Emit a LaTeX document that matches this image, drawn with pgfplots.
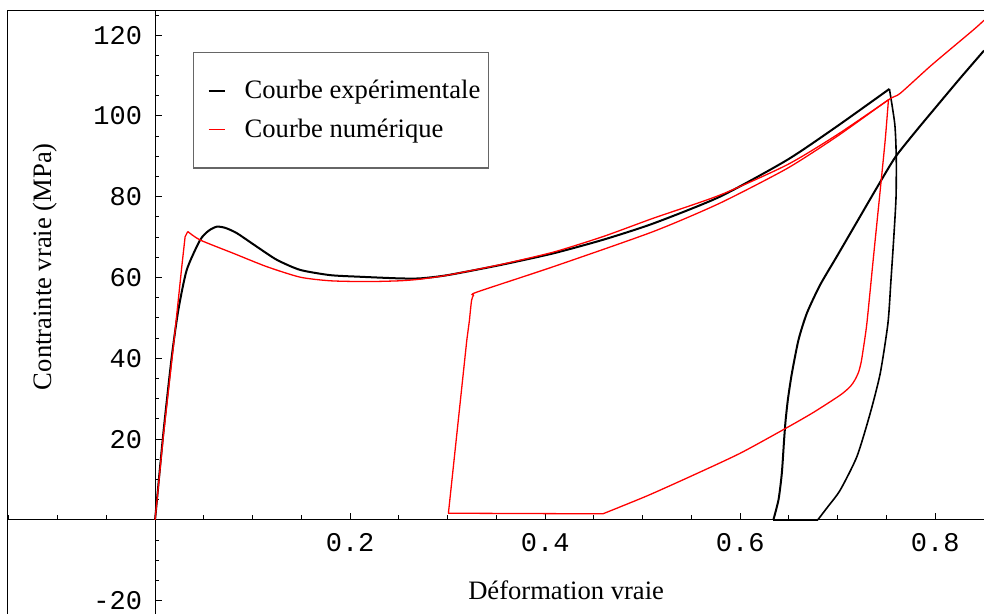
\documentclass[border=0pt]{standalone}
\usepackage{fontspec}
\setmainfont{Liberation Serif}
\setmonofont{Liberation Mono}
\usepackage{pgfplots}
\pgfplotsset{compat=1.18}
\begin{document}
\begin{tikzpicture}
\begin{axis}[
  name=ax,
  scale only axis,
  width=488pt, height=301.5pt,
  xmin=-0.1508, xmax=0.85,
  ymin=-23.3, ymax=126,
  axis lines=middle,
  axis line style={-, line width=0.5pt},
  every inner x axis line/.append style={-},
  every inner y axis line/.append style={-},
  xtick={0.2,0.4,0.6,0.8},
  xticklabels={0.2,0.4,0.6,0.8},
  ytick={-20,20,40,60,80,100,120},
  yticklabels={-20,20,40,60,80,100,120},
  minor xtick={-0.15,-0.1,-0.05,0.05,0.1,0.15,0.25,0.3,0.35,0.45,0.5,0.55,0.65,0.7,0.75},
  minor ytick={-15,-10,-5,5,10,15,25,30,35,45,50,55,65,70,75,85,90,95,105,110,115,125},
  tick align=inside,
  major tick length=3.4pt,
  minor tick length=2.2pt,
  tick style={line width=0.5pt, black},
  ticklabel style={font=\ttfamily\fontsize{13.5}{16}\selectfont},
  xticklabel style={yshift=-3pt},
  yticklabel style={xshift=-3pt},
  legend style={at={(axis cs:0.039,115.8)}, anchor=north west, draw=black!60, line width=0.6pt,
    font=\fontsize{13.3}{16}\selectfont, inner xsep=2pt, inner ysep=11.8pt, row sep=4.5pt,
    column sep=7.5pt, nodes={inner xsep=2pt},
    cells={anchor=west}},
  legend image code/.code={\draw[#1] (0pt,0pt) -- (8pt,0pt); \path[draw=none] (-5.5pt,0pt) -- (8pt,0pt);},
]
% experimental curve (black)
\addplot[black, line width=1pt, smooth, tension=0.4] coordinates {
(0,0) (0.0085,21.5) (0.0171,40.4) (0.0239,52.0) (0.0325,61.9) (0.0462,69.3)
(0.055,71.6) (0.0633,72.6) (0.072,72.3) (0.0838,71.0) (0.104,67.7) (0.1248,64.4)
(0.1487,61.9) (0.1795,60.6) (0.21,60.2) (0.25,59.8) (0.2718,59.8) (0.30,60.6)
(0.354,63.1) (0.4085,66.0) (0.46,69.4) (0.511,73.4) (0.579,80.0) (0.648,89.1)
(0.699,97.4) (0.753,106.7)
};
\addlegendentry{Courbe expérimentale}
\addplot[black, line width=0.8pt, smooth, tension=0.4, forget plot] coordinates {
(0.753,106.7) (0.7585,98) (0.760,90) (0.7598,80) (0.7575,70) (0.7545,59) (0.7515,48.7)
(0.7436,36.3) (0.7333,26.4) (0.7197,15.7) (0.7026,7.4) (0.690,3.3) (0.6795,0)
};
\addplot[black, line width=0.8pt, forget plot] coordinates {(0.6795,0) (0.634,0)};
\addplot[black, line width=1pt, smooth, tension=0.4, forget plot] coordinates {
(0.634,0) (0.6393,5.0) (0.6427,11.6) (0.645,19.8) (0.6465,24.5) (0.649,30) (0.653,36.3)
(0.6598,44.6) (0.6684,51.2) (0.682,58.2) (0.700,65.6) (0.72,73.9) (0.74,82.2)
(0.759,89.8) (0.78,96.2) (0.80,102.0) (0.825,109.2) (0.85,116.2)
};
% numerical curve (red)
\addplot[red, line width=0.65pt, line join=round] coordinates {
(0,0) (0.0085,20.8) (0.0188,42.9) (0.0274,62.7) (0.0308,70.1) (0.0335,71.4)
};
\addlegendentry{Courbe numérique}
\addplot[red, line width=0.65pt, smooth, tension=0.4, forget plot] coordinates {
(0.0335,71.4) (0.0462,69.3) (0.0803,66.0) (0.1145,62.7) (0.1487,60.1) (0.1795,59.2) (0.217,59.0)
(0.251,59.2) (0.2718,59.6) (0.30,60.6) (0.354,63.2) (0.4085,66.3) (0.46,70.2)
(0.511,74.7) (0.579,80.4) (0.648,87.9) (0.699,95.3) (0.752,104.0)
};
\addplot[red, line width=0.65pt, smooth, tension=0.4, forget plot] coordinates {
(0.752,104.0) (0.7487,94.1) (0.7436,81.7) (0.7367,65.2) (0.7299,48.7) (0.7260,42) (0.7240,39.0)
(0.7214,36.6) (0.7175,34.6) (0.7128,33.0) (0.7026,30.9) (0.675,26.6) (0.6469,22.7)
(0.600,16.5) (0.5521,11.1) (0.505,6.0) (0.4592,1.5)
};
\addplot[red, line width=0.65pt, line join=round, forget plot] coordinates {
(0.4592,1.5) (0.3008,1.65) (0.3197,44.6) (0.3224,49.5)
};
\addplot[red, line width=0.65pt, smooth, tension=0.4, forget plot] coordinates {
(0.3224,49.5) (0.3245,54.3) (0.3265,55.6) (0.330,56.4)
(0.4085,62.7) (0.511,71.4) (0.579,78.4) (0.648,87.0) (0.699,94.9) (0.752,104.0)
(0.764,105.6) (0.7962,112.6) (0.839,121.3) (0.85,123.7)
};
\node[anchor=base, font=\fontsize{13.3}{16}\selectfont] at (axis cs:0.4215,-19.8) {Déformation vraie};
\node[anchor=base, rotate=90, font=\fontsize{13.3}{16}\selectfont] at (axis cs:-0.1067,62.7) {Contrainte vraie (MPa)};
\end{axis}
\draw[line width=0.5pt] (ax.south west) -- (ax.north west) -- (ax.north east);
\pgfresetboundingbox
\path[use as bounding box] ([xshift=-4pt]ax.south west) rectangle ([yshift=5.5pt]ax.north east);
\end{tikzpicture}
\end{document}
